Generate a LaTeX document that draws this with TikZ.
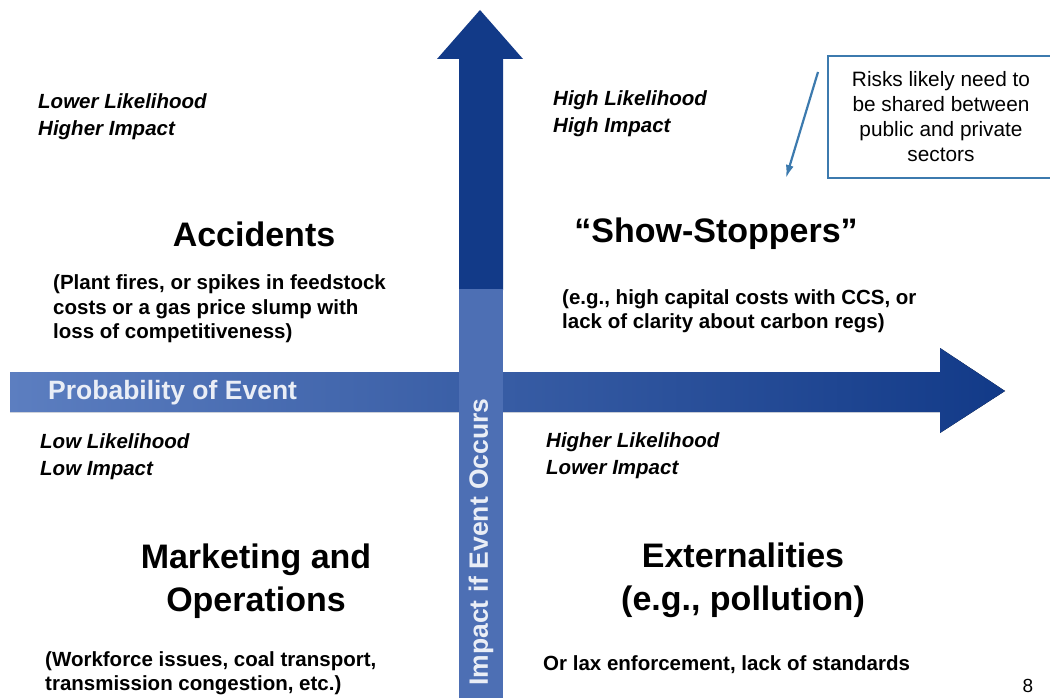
\documentclass[tikz,border=0pt]{standalone}
\usepackage{fontspec}
\setmainfont{Liberation Sans}
\usetikzlibrary{arrows.meta}
\definecolor{axisdark}{HTML}{123A88}
\definecolor{axislight}{HTML}{5C7EC0}
\definecolor{impactblue}{HTML}{4D6FB4}
\definecolor{calloutblue}{HTML}{3C7AAE}
\begin{document}
\begin{tikzpicture}[x=1pt, y=-1pt, inner sep=0pt,
  corner/.style={font=\fontsize{20.5}{27}\selectfont\bfseries\itshape, align=left, anchor=west},
  heading/.style={font=\fontsize{34}{43}\selectfont\bfseries, align=center},
  detail/.style={font=\fontsize{20.5}{24.5}\selectfont\bfseries, align=left, anchor=west},
  axislabel/.style={font=\fontsize{26.5}{30}\selectfont\bfseries, text=white!88!impactblue}]
  \useasboundingbox (0,0) rectangle (1050,698);
  \clip (0,0) rectangle (1050,698);
  \fill[white] (0,0) rectangle (1050,698);

  \fill[left color=axislight, right color=axisdark] (10,372) -- (940,372) -- (940,348) -- (1005,391)
    -- (940,433) -- (940,412) -- (10,412) -- cycle;
  \fill[axisdark] (459,290) -- (459,59) -- (437,59) -- (480,10) -- (523,59) -- (503,59) -- (503,290) -- cycle;
  \fill[impactblue] (459,289) rectangle (503,698);

  \node[axislabel, anchor=west] (prob) at (48,393) {Probability of Event};
  \node[axislabel, rotate=90] (impact) at (481,542) {Impact if Event Occurs};

  \node[corner] (ll) at (38,117) {Lower Likelihood\\Higher Impact};
  \node[corner] (hh) at (553,114) {High Likelihood\\High Impact};
  \node[corner] (lo) at (40,457) {Low Likelihood\\Low Impact};
  \node[corner] (hl) at (546,456) {Higher Likelihood\\Lower Impact};

  \node[heading] (acc) at (254,234) {Accidents};
  \node[detail] (accnote) at (53,309) {(Plant fires, or spikes in feedstock\\costs or a gas price slump with\\loss of competitiveness)};
  \node[heading] (show) at (716,234) {``Show-Stoppers''};
  \node[detail] (shownote) at (562,311) {(e.g., high capital costs with CCS, or\\lack of clarity about carbon regs)};
  \node[heading] (mkt) at (256,581) {Marketing and\\Operations};
  \node[detail] (mktnote) at (45,673) {(Workforce issues, coal transport,\\transmission congestion, etc.)};
  \node[heading] (ext) at (743,580) {Externalities\\(e.g., pollution)};
  \node[detail] (extnote) at (543,665) {Or lax enforcement, lack of standards};

  \node[draw=calloutblue, line width=2pt, minimum width=226pt, minimum height=122pt, align=center,
    font=\fontsize{20.8}{25}\selectfont] (riskbox) at (941,117)
    {Risks likely need to\\be shared between\\public and private\\sectors};
  \coordinate (calloutstart) at (818,72);
  \coordinate (callouttip) at (786,178);
  \draw[calloutblue, line width=2.2pt, -{Latex[length=13pt,width=8pt]}] (calloutstart) -- (callouttip);

  \node[font=\fontsize{19}{22}\selectfont] (page) at (1028,686) {8};
\end{tikzpicture}
\end{document}
